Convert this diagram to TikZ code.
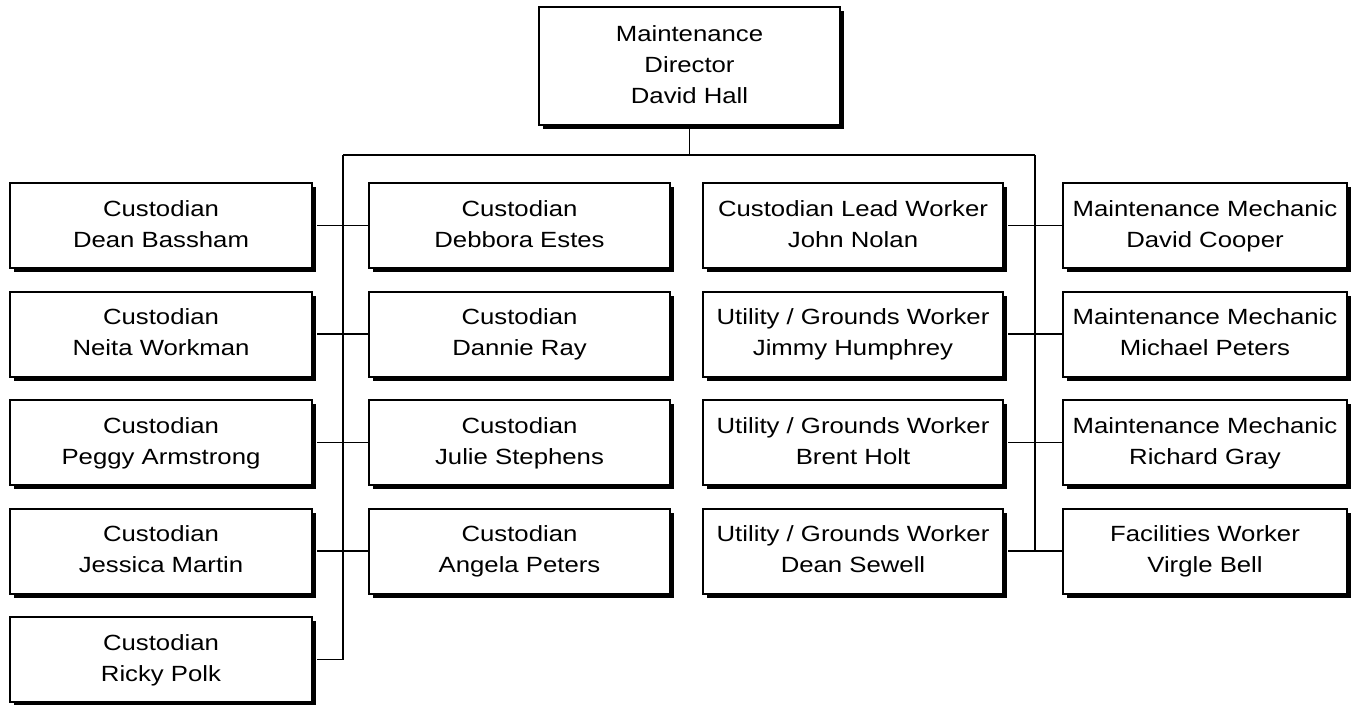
\documentclass[tikz,border=0pt]{standalone}
\usepackage{fontspec}
\setmainfont{Liberation Sans}[FakeStretch=1.17]
\usetikzlibrary{shadows}
\newcommand{\bxl}[1]{#1\strut}
\begin{document}
\begin{tikzpicture}[x=0.75pt,y=-0.75pt,
  box/.style={draw=black,line width=1.5pt,fill=white,align=center,inner sep=0pt,
    minimum height=63.75pt,
    font={\fontsize{16.5}{23.25}\selectfont},
    drop shadow={shadow xshift=3pt,shadow yshift=-3pt,fill=black,opacity=1}},
  wA/.style={minimum width=226.5pt},
  wB/.style={minimum width=225.5pt},
  wD/.style={minimum width=213pt},
  conn/.style={line width=1.4pt}]
\useasboundingbox (0,0) rectangle (1356,704);
% top
\node[box,minimum width=225.75pt,minimum height=88.5pt] (top) at (689.5,66) {\bxl{Maintenance}\\\bxl{Director}\\\bxl{David Hall}};
% column 1
\node[box,wA] (a1) at (161,225.5) {\bxl{Custodian}\\\bxl{Dean Bassham}};
\node[box,wA] (a2) at (161,334) {\bxl{Custodian}\\\bxl{Neita Workman}};
\node[box,wA] (a3) at (161,442.5) {\bxl{Custodian}\\\bxl{Peggy Armstrong}};
\node[box,wA] (a4) at (161,551) {\bxl{Custodian}\\\bxl{Jessica Martin}};
\node[box,wA] (a5) at (161,659.5) {\bxl{Custodian}\\\bxl{Ricky Polk}};
% column 2
\node[box,wB] (b1) at (519.5,225.5) {\bxl{Custodian}\\\bxl{Debbora Estes}};
\node[box,wB] (b2) at (519.5,334) {\bxl{Custodian}\\\bxl{Dannie Ray}};
\node[box,wB] (b3) at (519.5,442.5) {\bxl{Custodian}\\\bxl{Julie Stephens}};
\node[box,wB] (b4) at (519.5,551) {\bxl{Custodian}\\\bxl{Angela Peters}};
% column 3
\node[box,wB] (c1) at (853,225.5) {\bxl{Custodian Lead Worker}\\\bxl{John Nolan}};
\node[box,wB] (c2) at (853,334) {\bxl{Utility / Grounds Worker}\\\bxl{Jimmy Humphrey}};
\node[box,wB] (c3) at (853,442.5) {\bxl{Utility / Grounds Worker}\\\bxl{Brent Holt}};
\node[box,wB] (c4) at (853,551) {\bxl{Utility / Grounds Worker}\\\bxl{Dean Sewell}};
% column 4
\node[box,wD] (d1) at (1205,225.5) {\bxl{Maintenance Mechanic}\\\bxl{David Cooper}};
\node[box,wD] (d2) at (1205,334) {\bxl{Maintenance Mechanic}\\\bxl{Michael Peters}};
\node[box,wD] (d3) at (1205,442.5) {\bxl{Maintenance Mechanic}\\\bxl{Richard Gray}};
\node[box,wD] (d4) at (1205,551) {\bxl{Facilities Worker}\\\bxl{Virgle Bell}};
% bus
\coordinate (busL) at (343,155);
\coordinate (busR) at (1035,155);
\draw[conn] (top.south) -- (top.south |- busL);
\draw[conn] (busL) -- (busR);
\draw[conn] (busL) -- (busL |- a5.east);
\draw[conn] (busR) -- (busR |- c4.east);
\draw[conn] ([xshift=3pt]a1.east) -- (b1.west);
\draw[conn] ([xshift=3pt]a2.east) -- (b2.west);
\draw[conn] ([xshift=3pt]a3.east) -- (b3.west);
\draw[conn] ([xshift=3pt]a4.east) -- (b4.west);
\draw[conn] ([xshift=3pt]a5.east) -- (busL |- a5.east);
\draw[conn] ([xshift=3pt]c1.east) -- (d1.west);
\draw[conn] ([xshift=3pt]c2.east) -- (d2.west);
\draw[conn] ([xshift=3pt]c3.east) -- (d3.west);
\draw[conn] ([xshift=3pt]c4.east) -- (d4.west);
\end{tikzpicture}
\end{document}
